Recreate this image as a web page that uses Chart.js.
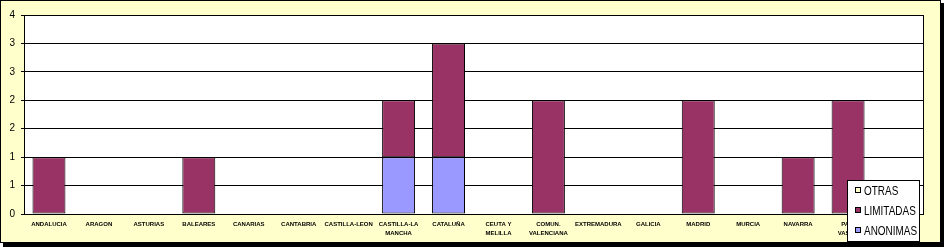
<!DOCTYPE html>
<html>
<head>
<meta charset="utf-8">
<script src="https://cdn.jsdelivr.net/npm/chart.js@4"></script>
<style>
  body { margin: 0; background: #fff; }
  canvas { display: block; }
</style>
</head>
<body>
<canvas id="chart" width="944" height="247"></canvas>
<script>
// comunidades
const categories = [
    'ANDALUCIA', 'ARAGON', 'ASTURIAS', 'BALEARES', 'CANARIAS', 'CANTABRIA',
    'CASTILLA-LEON', ['CASTILLA-LA', 'MANCHA'], 'CATALUÑA', ['CEUTA Y', 'MELILLA'],
    ['COMUN.', 'VALENCIANA'], 'EXTREMADURA', 'GALICIA', 'MADRID', 'MURCIA',
    'NAVARRA', ['PAIS', 'VASCO'], 'RIOJA'
];
const anonimas  = [0, 0, 0, 0, 0, 0, 0, 1, 1, 0, 0, 0, 0, 0, 0, 0, 0, 0];
const limitadas = [1, 0, 0, 1, 0, 0, 0, 1, 2, 0, 2, 0, 0, 2, 0, 1, 2, 0];
const otras     = [0, 0, 0, 0, 0, 0, 0, 0, 0, 0, 0, 0, 0, 0, 0, 0, 0, 0];
const yTicks = [0, 0.5, 1, 1.5, 2, 2.5, 3, 3.5];

const COL_BG = '#FFFFCC';
const COL_LIM = '#993366';
const COL_ANO = '#9999FF';

// fondo, borde y sombra del grafico
const fondo = {
    id: 'fondo',
    beforeDraw(chart) {
        const ctx = chart.ctx;
        const a = chart.chartArea;
        ctx.save();
        ctx.fillStyle = '#000';
        ctx.fillRect(3, 3, 941, 244);
        ctx.fillStyle = COL_BG;
        ctx.fillRect(0, 0, 941, 243);
        ctx.strokeStyle = '#000';
        ctx.lineWidth = 1;
        ctx.strokeRect(0.5, 0.5, 940, 242);
        ctx.fillStyle = '#fff';
        ctx.fillRect(a.left, a.top, a.right - a.left, a.bottom - a.top);
        ctx.restore();
    },
    afterDatasetsDraw(chart) {
        const ctx = chart.ctx;
        const a = chart.chartArea;
        ctx.save();
        ctx.strokeStyle = '#000';
        ctx.lineWidth = 1;
        ctx.beginPath();
        ctx.moveTo(Math.round(a.right) + 0.5, a.top);
        ctx.lineTo(Math.round(a.right) + 0.5, a.bottom + 0.5);
        ctx.stroke();
        ctx.restore();
    },
    afterDraw(chart) {
        // leyenda
        const ctx = chart.ctx;
        ctx.save();
        ctx.fillStyle = '#fff';
        ctx.fillRect(847, 180, 72, 61);
        ctx.strokeStyle = '#000';
        ctx.strokeRect(847.5, 180.5, 72, 61);
        const items = chart.data.datasets.slice().reverse();
        items.forEach((ds, i) => {
            const y = 190 + i * 20;
            ctx.fillStyle = ds.backgroundColor;
            ctx.fillRect(855, y - 3, 6, 6);
            ctx.strokeStyle = '#000';
            ctx.strokeRect(855.5, y - 2.5, 5, 5);
            ctx.save();
            ctx.translate(864, y);
            ctx.scale(0.765, 1);
            ctx.fillStyle = '#000';
            ctx.font = '13px "Liberation Sans", Arial, sans-serif';
            ctx.textBaseline = 'middle';
            ctx.fillText(ds.label, 0, 1);
            ctx.restore();
        });
        ctx.restore();
    }
};

const barStyle = { borderColor: '#000', borderWidth: 1, borderSkipped: false,
                   barPercentage: 0.66, categoryPercentage: 1 };

new Chart(document.getElementById('chart'), {
    type: 'bar',
    data: {
        labels: categories,
        datasets: [
            Object.assign({ label: 'ANONIMAS', data: anonimas, backgroundColor: COL_ANO }, barStyle),
            Object.assign({ label: 'LIMITADAS', data: limitadas, backgroundColor: COL_LIM }, barStyle),
            Object.assign({ label: 'OTRAS', data: otras, backgroundColor: COL_BG }, barStyle)
        ]
    },
    options: {
        responsive: false,
        animation: false,
        layout: { padding: { left: 0, top: 15, right: 21, bottom: 8 } },
        plugins: { legend: { display: false }, tooltip: { enabled: false } },
        scales: {
            x: {
                stacked: true,
                grid: { display: false, drawTicks: false },
                border: { display: true, color: '#000', width: 1 },
                ticks: {
                    color: '#000', maxRotation: 0, autoSkip: false, padding: 6,
                    font: { family: '"Liberation Sans", Arial, sans-serif', size: 6, weight: 'bold', lineHeight: 1.5 }
                },
                afterFit(s) { s.height = 25; }
            },
            y: {
                stacked: true,
                min: 0,
                max: 3.5,
                grid: { color: '#000', lineWidth: 1, tickLength: 3, drawTicks: true },
                border: { display: true, color: '#000', width: 1 },
                afterBuildTicks(s) { s.ticks = yTicks.map(v => ({ value: v })); },
                ticks: {
                    color: '#000', padding: 6,
                    font: { family: '"Liberation Sans", Arial, sans-serif', size: 10 },
                    callback: v => Math.round(v)
                },
                afterFit(s) { s.width = 24; }
            }
        }
    },
    plugins: [fondo]
});
</script>
</body>
</html>
